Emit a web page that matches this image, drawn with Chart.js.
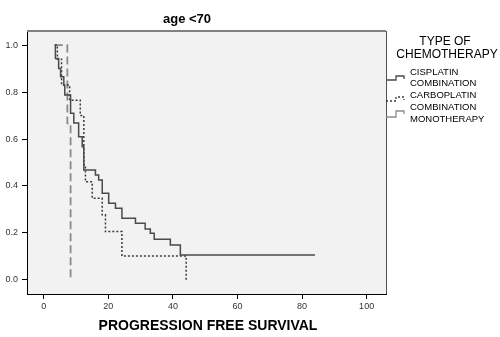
<!DOCTYPE html>
<html>
<head>
<meta charset="utf-8">
<script src="https://cdn.jsdelivr.net/npm/chart.js@4/dist/chart.umd.min.js"></script>
<style>
  body { margin: 0; background: #fff; }
  canvas { display: block; }
</style>
</head>
<body>
<canvas id="km" width="500" height="337"></canvas>
<script>
// Kaplan-Meier step points (time, survival)
const cisTimes = [3.4, 3.6, 4.6, 5.2, 6.2, 6.5, 8.3, 9.3, 10.8, 11.9, 12.4, 16.0, 17.0, 18.1, 20.1, 22.2, 24.2, 28.4, 31.4, 33.0, 34.2, 39.2, 42.3, 84.0];
const cisSurv  = [1.0, 0.943, 0.90, 0.865, 0.83, 0.787, 0.71, 0.668, 0.61, 0.567, 0.468, 0.447, 0.426, 0.369, 0.326, 0.305, 0.263, 0.241, 0.217, 0.199, 0.173, 0.149, 0.106, 0.106];

const carboTimes = [3.4, 4.2, 5.5, 8.0, 11.3, 12.4, 12.9, 15.0, 18.1, 19.1, 24.2, 44.1];
const carboSurv  = [1.0, 0.94, 0.83, 0.765, 0.70, 0.49, 0.418, 0.348, 0.277, 0.206, 0.102, 0.0];

const monoTimes = [3.4, 7.3, 8.3];
const monoSurv  = [1.0, 0.667, 0.0];

const xTicks = [0, 20, 40, 60, 80, 100];
const yTicks = [0.0, 0.2, 0.4, 0.6, 0.8, 1.0];

const chartTitle = "age <70";
const xTitle = "PROGRESSION FREE SURVIVAL";
const legendTitle = ["TYPE OF", "CHEMOTHERAPY"];
const groupLabels = [["CISPLATIN", "COMBINATION"], ["CARBOPLATIN", "COMBINATION"], ["MONOTHERAPY"]];

const FONT = '"Liberation Sans", Arial, sans-serif';

function pts(times, surv) {
  return times.map((t, i) => ({ x: t, y: surv[i] }));
}

const styles = [
  { color: "#4a4a4a", dash: [], width: 1.5 },
  { color: "#3a3a3a", dash: [2, 2], width: 1.5 },
  { color: "#8a8a8a", dash: [8, 4], width: 1.8 }
];

const framePlugin = {
  id: "frame",
  beforeDatasetsDraw(chart) {
    // nothing
  },
  beforeDraw(chart) {
    const a = chart.chartArea, ctx = chart.ctx;
    ctx.save();
    ctx.fillStyle = "#f2f2f2";
    ctx.fillRect(a.left, a.top, a.right - a.left, a.bottom - a.top);
    ctx.restore();
  },
  afterDraw(chart) {
    const a = chart.chartArea, ctx = chart.ctx;
    ctx.save();
    // top and right frame
    ctx.strokeStyle = "#808080";
    ctx.lineWidth = 2;
    ctx.beginPath();
    ctx.moveTo(a.left, a.top);
    ctx.lineTo(a.right, a.top);
    ctx.stroke();
    ctx.strokeStyle = "#505050";
    ctx.lineWidth = 1;
    ctx.beginPath();
    ctx.moveTo(a.right + 0.5, a.top);
    ctx.lineTo(a.right + 0.5, a.bottom);
    ctx.stroke();

    // titles
    ctx.fillStyle = "#000";
    ctx.textAlign = "center";
    ctx.textBaseline = "middle";
    ctx.font = "bold 13px " + FONT;
    ctx.fillText(chartTitle, 187, 19);
    ctx.font = "bold 14px " + FONT;
    ctx.fillText(xTitle, 208, 326);

    // legend
    ctx.font = "12px " + FONT;
    ctx.fillText(legendTitle[0], 445, 42);
    ctx.fillText(legendTitle[1], 447, 55);

    ctx.textAlign = "left";
    ctx.font = "9.5px " + FONT;
    const rows = [[72, 83.5], [95, 107], [119]];
    const sampleY = [[80, 76], [101, 97], [117, 111]];
    groupLabels.forEach((lines, g) => {
      ctx.fillStyle = "#000";
      lines.forEach((txt, k) => ctx.fillText(txt, 410, rows[g][k]));
      const s = styles[g];
      const [lo, hi] = sampleY[g];
      ctx.strokeStyle = s.color;
      ctx.lineWidth = 1.3;
      ctx.setLineDash(g === 1 ? [2, 2] : []);
      ctx.beginPath();
      ctx.moveTo(386, lo);
      ctx.lineTo(396, lo);
      ctx.lineTo(396, hi);
      ctx.lineTo(404, hi);
      ctx.lineTo(404, hi + 3);
      ctx.stroke();
    });
    ctx.restore();
  }
};

new Chart(document.getElementById("km"), {
  type: "line",
  data: {
    datasets: [
      { label: groupLabels[0].join(" "), data: pts(cisTimes, cisSurv) },
      { label: groupLabels[1].join(" "), data: pts(carboTimes, carboSurv) },
      { label: groupLabels[2].join(" "), data: pts(monoTimes, monoSurv) }
    ].map((d, i) => Object.assign(d, {
      borderColor: styles[i].color,
      borderDash: styles[i].dash,
      borderWidth: styles[i].width,
      stepped: "before",
      pointRadius: 0,
      fill: false
    }))
  },
  options: {
    responsive: false,
    animation: false,
    layout: { padding: { left: 0, right: 114, top: 31, bottom: 0 } },
    plugins: { legend: { display: false }, tooltip: { enabled: false } },
    scales: {
      x: {
        type: "linear",
        min: -5.2,
        max: 106,
        afterFit(scale) { scale.height = 43; },
        afterBuildTicks(scale) { scale.ticks = xTicks.map(v => ({ value: v })); },
        grid: { drawOnChartArea: false, tickLength: 5, color: "#000" },
        border: { color: "#000" },
        ticks: { font: { family: FONT, size: 9 }, color: "#333", padding: 2, maxRotation: 0 }
      },
      y: {
        min: -0.06,
        max: 1.06,
        afterFit(scale) { scale.width = 27; },
        afterBuildTicks(scale) { scale.ticks = yTicks.map(v => ({ value: v })); },
        grid: { drawOnChartArea: false, tickLength: 5, color: "#000" },
        border: { color: "#000" },
        ticks: { font: { family: FONT, size: 9 }, color: "#333", padding: 4, callback: v => v.toFixed(1) }
      }
    }
  },
  plugins: [framePlugin]
});
</script>
</body>
</html>
